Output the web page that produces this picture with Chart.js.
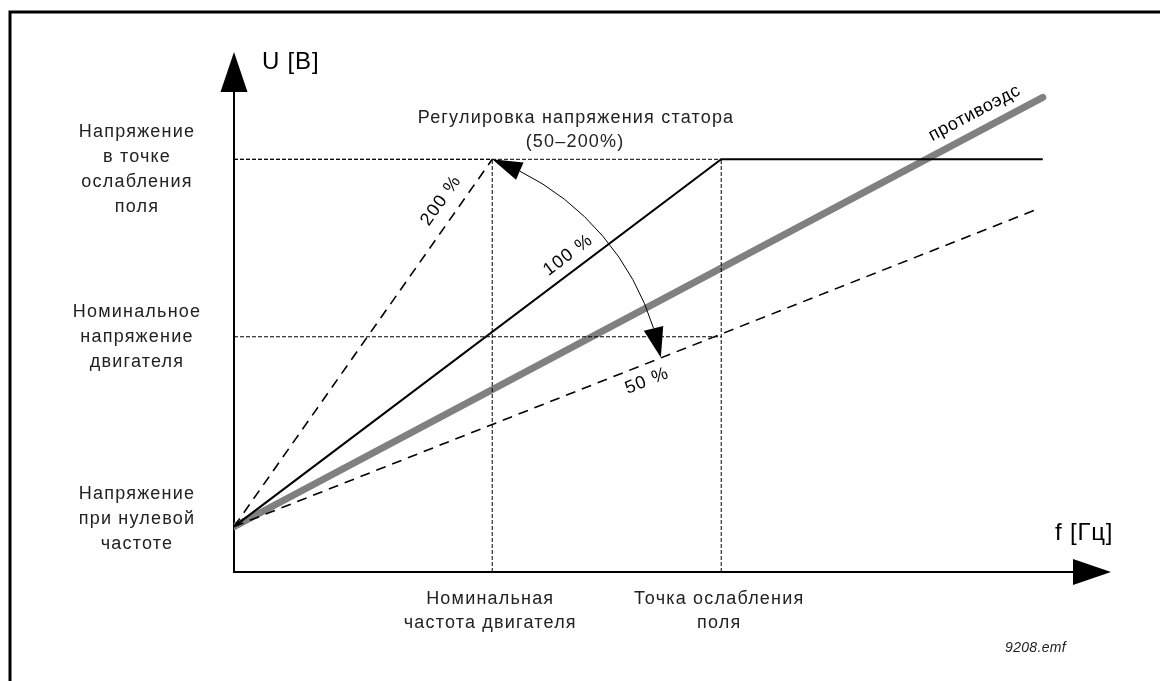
<!DOCTYPE html>
<html>
<head>
<meta charset="utf-8">
<script src="https://cdn.jsdelivr.net/npm/chart.js@4.4.0/dist/chart.umd.min.js"></script>
<style>
  body { margin: 0; background: #fff; }
</style>
</head>
<body>
<canvas id="chart" width="1160" height="681"></canvas>
<script>
// U/f diagram values (f and U in % of the field weakening point)
const fMax = 180;
const uMax = 126;

const f100 = [0, 100, 166];   // 100 % curve
const u100 = [11, 100, 100];
const f200 = [0, 53];         // 200 % curve
const u200 = [11, 100];
const f50 = [0, 165];         // 50 % curve
const u50 = [11, 88];
const fEmf = [0, 166];        // противоэдс
const uEmf = [11, 115];

// tick levels
const uTickValues = [100, 57, 11];
const uTickLabels = [
  ['Напряжение', 'в точке', 'ослабления', 'поля'],
  ['Номинальное', 'напряжение', 'двигателя'],
  ['Напряжение', 'при нулевой', 'частоте']
];
const fTickValues = [53, 100];
const fTickLabels = [
  ['Номинальная', 'частота двигателя'],
  ['Точка ослабления', 'поля']
];

// arc of the stator voltage adjustment (200 % apex -> 100 % line -> 50 % line)
const arcF = [53, 77, 87.6];
const arcU = [100, 79.5, 52];

const toXY = (fs, us) => fs.map((f, i) => ({ x: f, y: us[i] }));

const FONT = '"Liberation Sans", Arial, sans-serif';
const TEXT = '#222';

function setText(ctx, size, spacing, style) {
  ctx.font = (style || '') + ' ' + size + 'px ' + FONT;
  ctx.letterSpacing = spacing + 'px';
  ctx.fillStyle = TEXT;
  ctx.textAlign = 'center';
  ctx.textBaseline = 'middle';
}

function triangle(ctx, tip, base, half) {
  const dx = tip.x - base.x, dy = tip.y - base.y;
  const l = Math.hypot(dx, dy);
  const nx = -dy / l, ny = dx / l;
  ctx.beginPath();
  ctx.moveTo(tip.x, tip.y);
  ctx.lineTo(base.x + nx * half, base.y + ny * half);
  ctx.lineTo(base.x - nx * half, base.y - ny * half);
  ctx.closePath();
  ctx.fill();
}

function lineAngle(xs, ys, fs, us) {
  const x1 = xs.getPixelForValue(fs[0]), y1 = ys.getPixelForValue(us[0]);
  const x2 = xs.getPixelForValue(fs[fs.length - 1]), y2 = ys.getPixelForValue(us[us.length - 1]);
  return Math.atan2(y2 - y1, x2 - x1);
}

function rotText(ctx, txt, x, y, ang) {
  ctx.save();
  ctx.translate(x, y);
  ctx.rotate(ang);
  ctx.fillText(txt, 0, 0);
  ctx.restore();
}

const diagram = {
  id: 'diagram',
  beforeDatasetsDraw(chart) {
    const ctx = chart.ctx;
    const xs = chart.scales.x, ys = chart.scales.y;
    const x0 = xs.getPixelForValue(0), y0 = ys.getPixelForValue(0);
    ctx.save();
    // frame
    ctx.strokeStyle = '#000';
    ctx.lineWidth = 3;
    ctx.beginPath();
    ctx.moveTo(10, 681);
    ctx.lineTo(10, 12);
    ctx.lineTo(1160, 12);
    ctx.stroke();
    // axes
    ctx.lineWidth = 2;
    ctx.beginPath();
    ctx.moveTo(x0, ys.getPixelForValue(uMax) + 30);
    ctx.lineTo(x0, y0);
    ctx.lineTo(xs.getPixelForValue(fMax) - 30, y0);
    ctx.stroke();
    ctx.fillStyle = '#000';
    triangle(ctx, { x: x0, y: ys.getPixelForValue(uMax) }, { x: x0, y: ys.getPixelForValue(uMax) + 40 }, 13.5);
    triangle(ctx, { x: xs.getPixelForValue(fMax), y: y0 }, { x: xs.getPixelForValue(fMax) - 38, y: y0 }, 13);
    ctx.restore();
  },
  afterDatasetsDraw(chart) {
    const ctx = chart.ctx;
    const xs = chart.scales.x, ys = chart.scales.y;
    const x0 = xs.getPixelForValue(0), y0 = ys.getPixelForValue(0);
    ctx.save();

    // arc through three points
    const p = arcF.map((f, i) => ({ x: xs.getPixelForValue(f), y: ys.getPixelForValue(arcU[i]) }));
    const [a, b, c] = p;
    const d = 2 * (a.x * (b.y - c.y) + b.x * (c.y - a.y) + c.x * (a.y - b.y));
    const ux = ((a.x * a.x + a.y * a.y) * (b.y - c.y) + (b.x * b.x + b.y * b.y) * (c.y - a.y) + (c.x * c.x + c.y * c.y) * (a.y - b.y)) / d;
    const uy = ((a.x * a.x + a.y * a.y) * (c.x - b.x) + (b.x * b.x + b.y * b.y) * (a.x - c.x) + (c.x * c.x + c.y * c.y) * (b.x - a.x)) / d;
    const r = Math.hypot(a.x - ux, a.y - uy);
    const a1 = Math.atan2(a.y - uy, a.x - ux);
    const a3 = Math.atan2(c.y - uy, c.x - ux);
    const s = a3 > a1 ? 1 : -1;
    const head = 30 / r;
    ctx.strokeStyle = '#000';
    ctx.lineWidth = 1;
    ctx.beginPath();
    ctx.arc(ux, uy, r, a1 + s * head, a3 - s * head, s < 0);
    ctx.stroke();
    ctx.fillStyle = '#000';
    const at = ang => ({ x: ux + r * Math.cos(ang), y: uy + r * Math.sin(ang) });
    triangle(ctx, a, at(a1 + s * head), 9.5);
    triangle(ctx, c, at(a3 - s * head), 10);

    // U axis labels
    setText(ctx, 18, 1.2);
    const uShift = [10, 0, -8];
    uTickValues.forEach((v, i) => {
      const lines = uTickLabels[i];
      const cy = ys.getPixelForValue(v) + uShift[i];
      lines.forEach((t, j) => {
        ctx.fillText(t, x0 - 97, cy + (j - (lines.length - 1) / 2) * 25);
      });
    });
    // f axis labels
    fTickValues.forEach((v, i) => {
      fTickLabels[i].forEach((t, j) => {
        ctx.fillText(t, xs.getPixelForValue(v) - 2, y0 + 27 + j * 24);
      });
    });

    // title of the arc
    ctx.fillText('Регулировка напряжения статора', xs.getPixelForValue(70.2), ys.getPixelForValue(110));
    ctx.fillText('(50–200%)', xs.getPixelForValue(70), ys.getPixelForValue(104.2));

    // curve labels
    ctx.fillStyle = '#000';
    rotText(ctx, '200 %', xs.getPixelForValue(42.5), ys.getPixelForValue(90), lineAngle(xs, ys, f200, u200));
    rotText(ctx, '100 %', xs.getPixelForValue(68.6), ys.getPixelForValue(76.8), lineAngle(xs, ys, f100.slice(0, 2), u100.slice(0, 2)));
    rotText(ctx, '50 %', xs.getPixelForValue(84.8), ys.getPixelForValue(46.3), lineAngle(xs, ys, f50, u50));
    setText(ctx, 18, 0.6);
    ctx.fillStyle = '#000';
    rotText(ctx, 'противоэдс', xs.getPixelForValue(152), ys.getPixelForValue(111.2), lineAngle(xs, ys, fEmf, uEmf));

    // axis names
    setText(ctx, 24, 0.8);
    ctx.fillStyle = '#000';
    ctx.textAlign = 'left';
    ctx.fillText('U [B]', x0 + 28, ys.getPixelForValue(uMax) + 10);
    ctx.fillText('f [Гц]', xs.getPixelForValue(fMax) - 56, y0 - 39);

    setText(ctx, 14, 0.3, 'italic');
    ctx.fillText('9208.emf', xs.getPixelForValue(164.5), y0 + 76);
    ctx.restore();
  }
};

const dashed = (fs, us, dash, width) => ({
  data: toXY(fs, us), borderColor: '#000', borderWidth: width, borderDash: dash, order: 2
});

new Chart(document.getElementById('chart'), {
  type: 'scatter',
  data: {
    datasets: [
      { data: toXY(f100, u100), borderColor: '#000', borderWidth: 2, order: 1 },
      dashed(f200, u200, [10, 7], 1.6),
      dashed(f50, u50, [10, 7], 1.6),
      dashed([0, f200[1]], [u200[1], u200[1]], [4, 2], 1),
      dashed([f200[1], f200[1]], [0, u200[1]], [4, 2], 1),
      dashed([0, f100[1]], [u100[1], u100[1]], [4, 2], 1),
      dashed([f100[1], f100[1]], [0, u100[1]], [4, 2], 1),
      dashed([0, f100[1]], [uTickValues[1], uTickValues[1]], [4, 2], 1),
      { data: toXY(fEmf, uEmf), borderColor: '#808080', borderWidth: 7, borderCapStyle: 'round', order: 10 }
    ]
  },
  options: {
    responsive: false,
    animation: false,
    showLine: true,
    layout: { padding: { left: 234, right: 49, top: 52, bottom: 109 } },
    elements: { point: { radius: 0, hoverRadius: 0 }, line: { tension: 0 } },
    scales: {
      x: { type: 'linear', min: 0, max: fMax, display: false },
      y: { type: 'linear', min: 0, max: uMax, display: false }
    },
    plugins: { legend: { display: false }, tooltip: { enabled: false } }
  },
  plugins: [diagram]
});
</script>
</body>
</html>
